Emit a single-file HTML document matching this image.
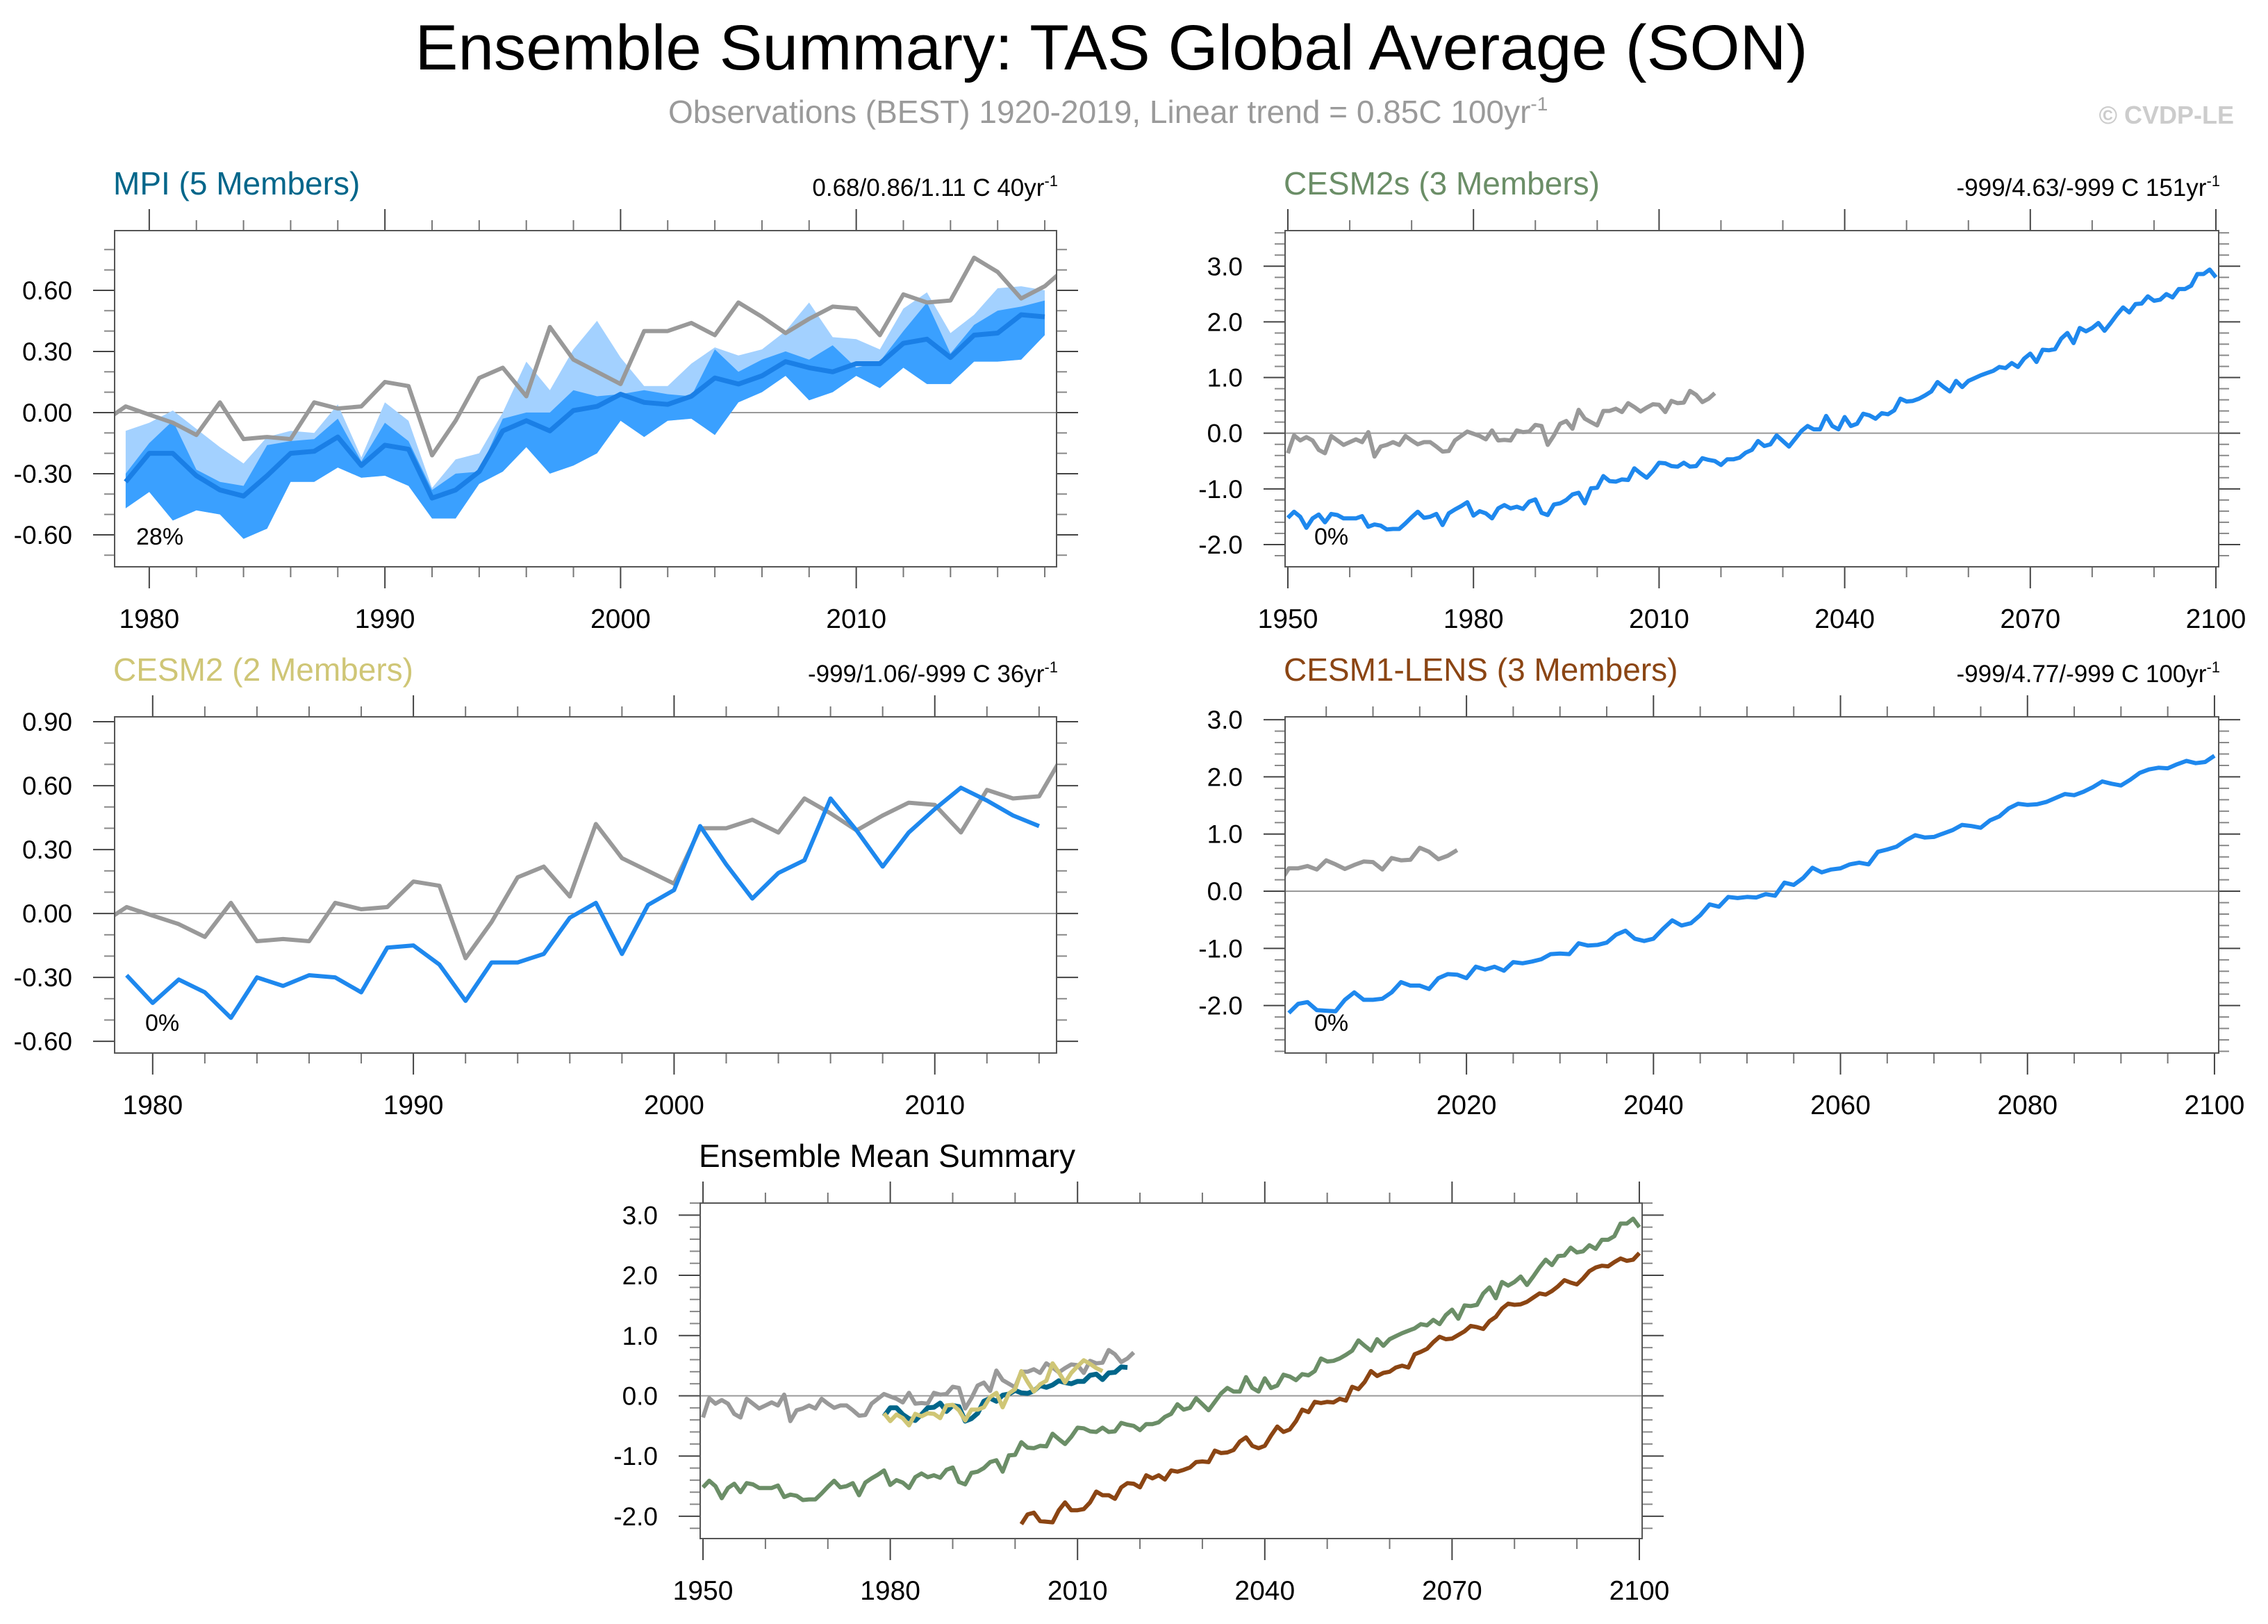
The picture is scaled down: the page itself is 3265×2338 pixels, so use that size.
<!DOCTYPE html>
<html><head><meta charset="utf-8"><title>Ensemble Summary</title>
<style>html,body{margin:0;padding:0;background:#fff}svg{display:block;font-family:"Liberation Sans",Arial,sans-serif}</style>
</head><body>
<svg id="fig" width="3265" height="2338" viewBox="0 0 3265 2338" xmlns="http://www.w3.org/2000/svg">
<rect width="3265" height="2338" fill="#fff"/>
<text x="1600" y="100" font-size="92" text-anchor="middle" textLength="2005" lengthAdjust="spacingAndGlyphs">Ensemble Summary: TAS Global Average (SON)</text>
<text x="962" y="177" font-size="46" fill="#9a9a9a">Observations (BEST) 1920-2019, Linear trend = 0.85C 100yr<tspan dy="-18" font-size="28">-1</tspan></text>
<text x="3216" y="178" font-size="36" font-weight="bold" fill="#cccccc" text-anchor="end">© CVDP-LE</text>
<g id="panels"></g>
</svg>
<script>
// ---- data ----
const obsStart = 1950;
const obsValues = [-0.36,-0.04,-0.13,-0.07,-0.13,-0.30,-0.36,-0.05,-0.13,-0.21,-0.16,-0.11,-0.16,0.02,-0.42,-0.24,-0.21,-0.16,-0.21,-0.05,-0.13,-0.20,-0.16,-0.16,-0.24,-0.33,-0.32,-0.13,-0.05,
0.03,-0.01,-0.05,-0.11,0.05,-0.13,-0.12,-0.13,0.05,0.02,0.03,0.15,0.13,-0.21,-0.04,0.17,0.22,0.08,0.42,0.26,0.20,0.14,0.40,0.40,0.44,0.38,0.54,0.47,0.39,0.46,0.52,0.51,0.38,0.58,0.54,0.55,0.76,0.69,0.56,0.62,0.72];
const mpiStart = 1979;
const mpiMean = [-0.34,-0.20,-0.20,-0.31,-0.38,-0.41,-0.31,-0.20,-0.19,-0.12,-0.26,-0.16,-0.18,-0.42,-0.38,-0.29,-0.09,-0.04,-0.09,0.01,0.03,0.09,0.05,0.04,0.08,0.17,0.14,0.18,0.25,0.22,0.20,0.24,0.24,0.34,0.36,0.27,0.38,0.39,0.48,0.47];
const mpiMax = [-0.09,-0.05,0.01,-0.08,-0.17,-0.25,-0.12,-0.09,-0.10,0.04,-0.22,0.05,-0.04,-0.37,-0.23,-0.20,0.00,0.25,0.11,0.31,0.45,0.27,0.13,0.13,0.24,0.32,0.28,0.31,0.40,0.54,0.37,0.36,0.31,0.51,0.59,0.39,0.48,0.61,0.62,0.60];
const mpiMidTop = [-0.30,-0.15,-0.04,-0.28,-0.34,-0.36,-0.16,-0.14,-0.13,-0.03,-0.24,-0.05,-0.14,-0.38,-0.30,-0.29,-0.03,0.00,0.00,0.11,0.08,0.09,0.11,0.09,0.08,0.31,0.20,0.26,0.30,0.26,0.33,0.22,0.25,0.40,0.54,0.29,0.43,0.50,0.52,0.55];
const mpiMin = [-0.47,-0.39,-0.53,-0.48,-0.50,-0.62,-0.57,-0.34,-0.34,-0.27,-0.32,-0.31,-0.36,-0.52,-0.52,-0.35,-0.29,-0.17,-0.30,-0.26,-0.20,-0.04,-0.12,-0.04,-0.03,-0.11,0.05,0.10,0.18,0.06,0.10,0.18,0.12,0.22,0.14,0.14,0.25,0.25,0.26,0.38];
const cesm2Start = 1979;
const cesm2Mean = [-0.29,-0.42,-0.31,-0.37,-0.49,-0.30,-0.34,-0.29,-0.30,-0.37,-0.16,-0.15,-0.24,-0.41,-0.23,-0.23,-0.19,-0.02,0.05,-0.19,0.04,0.11,0.41,0.23,0.07,0.19,0.25,0.54,0.39,0.22,0.38,0.49,0.59,0.53,0.46,0.41];
const cesm2sStart = 1950;
const cesm2sMean = [-1.52,-1.41,-1.50,-1.70,-1.53,-1.46,-1.60,-1.45,-1.47,-1.53,-1.53,-1.53,-1.49,-1.68,-1.64,-1.66,-1.73,-1.72,-1.72,-1.62,
-1.51,-1.41,-1.52,-1.50,-1.45,-1.65,-1.44,-1.37,-1.31,-1.24,-1.48,-1.40,-1.44,-1.53,-1.35,-1.29,-1.35,-1.32,-1.36,-1.23,
-1.19,-1.43,-1.47,-1.28,-1.26,-1.20,-1.10,-1.07,-1.26,-0.99,-0.98,-0.77,-0.86,-0.87,-0.83,-0.84,-0.63,-0.72,-0.80,-0.68,
-0.53,-0.54,-0.59,-0.60,-0.53,-0.60,-0.59,-0.45,-0.48,-0.50,-0.57,-0.47,-0.47,-0.44,-0.35,-0.30,-0.14,-0.23,-0.20,-0.04,
-0.14,-0.24,-0.10,0.04,0.13,0.07,0.07,0.31,0.13,0.07,0.29,0.13,0.17,0.35,0.32,0.26,0.36,0.34,0.41,0.62,
0.57,0.58,0.62,0.68,0.75,0.92,0.83,0.75,0.94,0.83,0.94,0.99,1.04,1.08,1.12,1.19,1.17,1.26,1.19,1.34,
1.43,1.28,1.50,1.49,1.51,1.70,1.80,1.62,1.89,1.83,1.89,1.98,1.84,1.98,2.13,2.26,2.17,2.32,2.33,2.46,
2.38,2.40,2.50,2.44,2.59,2.59,2.65,2.86,2.86,2.94,2.80];
const lensStart = 2001;
const lensMean = [-2.13,-1.97,-1.94,-2.08,-2.09,-2.10,-1.90,-1.77,-1.90,-1.90,-1.88,-1.77,-1.59,-1.65,-1.65,-1.71,-1.52,-1.45,-1.46,-1.52,
-1.32,-1.37,-1.32,-1.39,-1.24,-1.26,-1.23,-1.19,-1.10,-1.09,-1.10,-0.91,-0.95,-0.94,-0.90,-0.76,-0.69,-0.83,-0.87,-0.83,
-0.66,-0.51,-0.60,-0.56,-0.42,-0.23,-0.27,-0.10,-0.12,-0.10,-0.11,-0.05,-0.08,0.15,0.11,0.23,0.41,0.33,0.38,0.40,
0.47,0.50,0.47,0.69,0.73,0.78,0.89,0.98,0.94,0.95,1.01,1.07,1.16,1.14,1.11,1.24,1.31,1.45,1.53,1.51,
1.52,1.56,1.63,1.70,1.68,1.74,1.82,1.92,1.88,1.85,1.95,2.07,2.13,2.16,2.15,2.22,2.28,2.24,2.26,2.37];
const ticksMPI = [0.60,0.30,0.00,-0.30,-0.60];
const ticksCESM2 = [0.90,0.60,0.30,0.00,-0.30,-0.60];
const ticksBig = [3.0,2.0,1.0,0.0,-1.0,-2.0];
const yearsShort = [1980,1990,2000,2010];
const yearsLong = [1950,1980,2010,2040,2070,2100];
const yearsLens = [2020,2040,2060,2080,2100];

const NS = 'http://www.w3.org/2000/svg';
const root = document.getElementById('panels');
function mk(tag, attrs, parent){const e=document.createElementNS(NS,tag);for(const k in attrs)e.setAttribute(k,attrs[k]);(parent||root).appendChild(e);return e;}
function series(start, vals){return vals.map((v,i)=>[start+i,v]);}

function panel(c){
  const g = mk('g',{});
  
  
  const sx = v => c.x0 + (v - c.xmin)/(c.xmax - c.xmin)*(c.x1 - c.x0);
  const sy = v => c.y1 - (v - c.ymin)/(c.ymax - c.ymin)*(c.y1 - c.y0);
  const id = 'clip-'+c.name;
  const cp = mk('clipPath',{id:id},g); mk('rect',{x:c.x0,y:c.y0,width:c.x1-c.x0,height:c.y1-c.y0},cp);
  for(let yr=Math.ceil(c.xmin); yr<=c.xmax; yr++){
    const rel = yr - c.xmajorBase;
    let len=0;
    if(rel % c.xmajor === 0) len=31; else if(rel % c.xminor === 0) len=15;
    if(!len) continue;
    const x=sx(yr);
    const t1=mk('line',{x1:x,x2:x,y1:c.y0,y2:c.y0-len,stroke:len>20?'#444':'#777','stroke-width':2},g);
    
    
    const t2=mk('line',{x1:x,x2:x,y1:c.y1,y2:c.y1+len,stroke:len>20?'#444':'#777','stroke-width':2},g);
    
    
  }
  const steps = Math.round((c.ymax-c.ymin)/c.yminor)+2;
  const base = Math.ceil(c.ymin/c.yminor);
  for(let k=base;k<base+steps;k++){
    const v=k*c.yminor; if(v>c.ymax+1e-9) break;
    const major = c.yticks.some(t=>Math.abs(t-v)<1e-6);
    const len = major?31:15; const y=sy(v);
    const a=mk('line',{x1:c.x0-len,x2:c.x0,y1:y,y2:y,stroke:major?'#444':'#888','stroke-width':2},g);
    
    
    const b=mk('line',{x1:c.x1,x2:c.x1+len,y1:y,y2:y,stroke:major?'#444':'#888','stroke-width':2},g);
    
    
  }
  c.yticks.forEach(v=>{
    const t=mk('text',{x:c.x0-61,y:sy(v)+13,'font-size':37,'text-anchor':'end'},g);
    t.textContent=v.toFixed(c.ydec);
    
    
  });
  c.xlabels.forEach(v=>{
    const t=mk('text',{x:sx(v),y:c.y1+88,'font-size':39,'text-anchor':'middle'},g);
    t.textContent=String(v);
    
    
  });
  const plot=mk('g',{'clip-path':'url(#'+id+')'},g);
  const zl=mk('line',{x1:c.x0,x2:c.x1,y1:sy(0),y2:sy(0),stroke:'#999','stroke-width':2},plot);
  
  
  (c.bands||[]).forEach(bd=>{
    const up=series(bd.start,bd.top), lo=series(bd.start,bd.bot).reverse();
    const pts=up.concat(lo).map(p=>sx(p[0]).toFixed(1)+','+sy(p[1]).toFixed(1)).join(' ');
    const pg=mk('polygon',{points:pts,fill:bd.fill},plot);
    
    
  });
  c.lines.forEach(l=>{
    const pts=series(l.start,l.vals).map(p=>sx(p[0]).toFixed(1)+','+sy(p[1]).toFixed(1)).join(' ');
    const pl=mk('polyline',{points:pts,fill:'none',stroke:l.color,'stroke-width':l.w,'stroke-linejoin':'round'},plot);
    
    
  });
  const box=mk('rect',{x:c.x0,y:c.y0,width:c.x1-c.x0,height:c.y1-c.y0,fill:'none',stroke:'#555','stroke-width':2},g);
  
  
  const tt=mk('text',{x:c.x0-2,y:c.y0-52,'font-size':46,fill:c.tcolor},g);
  tt.textContent=c.title;
  
  
  if(c.rtext){
    const rt=mk('text',{x:c.x1+2,y:c.y0-50,'font-size':35,'text-anchor':'end'},g);
    rt.textContent=c.rtext;
    const sp=mk('tspan',{dy:-14,'font-size':22},rt); sp.textContent='-1';
    
    
  }
  if(c.pct){
    const pt=mk('text',{x:c.pctX,y:c.y1-32,'font-size':34},g);
    pt.textContent=c.pct;
    
    
  }
}
const OBS='#999999', BLUE='#1e88ee';
panel({name:'mpi-panel',x0:165,x1:1521,y0:332,y1:816,xmin:1978.53,xmax:2018.5,ymin:-0.757,ymax:0.893,
  xmajor:10,xminor:2,xmajorBase:1980,yminor:0.1,yticks:ticksMPI,ydec:2,xlabels:yearsShort,
  title:'MPI (5 Members)',tcolor:'#00668a',rtext:'0.68/0.86/1.11 C 40yr',pct:'28%',pctX:196,
  bands:[{name:'mpi-range-band',start:mpiStart,top:mpiMax,bot:mpiMin,fill:'#a3d1ff'},{name:'mpi-inner-band',start:mpiStart,top:mpiMidTop,bot:mpiMin,fill:'#3aa0ff'}],
  lines:[{name:'obs-line',start:obsStart,vals:obsValues,color:OBS,w:6},{name:'mpi-mean-line',start:mpiStart,vals:mpiMean,color:'#1a7fe6',w:7}]});
panel({name:'cesm2s-panel',x0:1850,x1:3194,y0:332,y1:816,xmin:1949.55,xmax:2100.45,ymin:-2.4,ymax:3.64,
  xmajor:30,xminor:10,xmajorBase:1950,yminor:0.2,yticks:ticksBig,ydec:1,xlabels:yearsLong,
  title:'CESM2s (3 Members)',tcolor:'#6b8e67',rtext:'-999/4.63/-999 C 151yr',pct:'0%',pctX:1892,
  lines:[{name:'obs-line',start:obsStart,vals:obsValues,color:OBS,w:6},{name:'cesm2s-mean-line',start:cesm2sStart,vals:cesm2sMean,color:BLUE,w:6}]});
panel({name:'cesm2-panel',x0:165,x1:1521,y0:1032,y1:1516,xmin:1978.54,xmax:2014.67,ymin:-0.655,ymax:0.923,
  xmajor:10,xminor:2,xmajorBase:1980,yminor:0.1,yticks:ticksCESM2,ydec:2,xlabels:yearsShort,
  title:'CESM2 (2 Members)',tcolor:'#cfc676',rtext:'-999/1.06/-999 C 36yr',pct:'0%',pctX:209,
  lines:[{name:'obs-line',start:obsStart,vals:obsValues,color:OBS,w:6},{name:'cesm2-mean-line',start:cesm2Start,vals:cesm2Mean,color:BLUE,w:6}]});
panel({name:'cesm1-lens-panel',x0:1850,x1:3194,y0:1032,y1:1516,xmin:2000.6,xmax:2100.45,ymin:-2.83,ymax:3.05,
  xmajor:20,xminor:5,xmajorBase:2020,yminor:0.2,yticks:ticksBig,ydec:1,xlabels:yearsLens,
  title:'CESM1-LENS (3 Members)',tcolor:'#8b4513',rtext:'-999/4.77/-999 C 100yr',pct:'0%',pctX:1892,
  lines:[{name:'obs-line',start:obsStart,vals:obsValues,color:OBS,w:6},{name:'cesm1-lens-mean-line',start:lensStart,vals:lensMean,color:BLUE,w:6}]});
panel({name:'ensemble-mean-summary-panel',x0:1008,x1:2364,y0:1732,y1:2215,xmin:1949.55,xmax:2100.45,ymin:-2.37,ymax:3.2,
  xmajor:30,xminor:10,xmajorBase:1950,yminor:0.2,yticks:ticksBig,ydec:1,xlabels:yearsLong,
  title:'Ensemble Mean Summary',tcolor:'#000',
  lines:[{name:'obs-line',start:obsStart,vals:obsValues,color:OBS,w:6},
    {name:'cesm2s-mean-line',start:cesm2sStart,vals:cesm2sMean,color:'#6b8e67',w:6},
    {name:'cesm1-lens-mean-line',start:lensStart,vals:lensMean,color:'#8b4513',w:6},
    {name:'mpi-mean-line',start:mpiStart,vals:mpiMean,color:'#00668a',w:7},
    {name:'cesm2-mean-line',start:cesm2Start,vals:cesm2Mean,color:'#cfc676',w:6}]});
</script>
</body></html>
